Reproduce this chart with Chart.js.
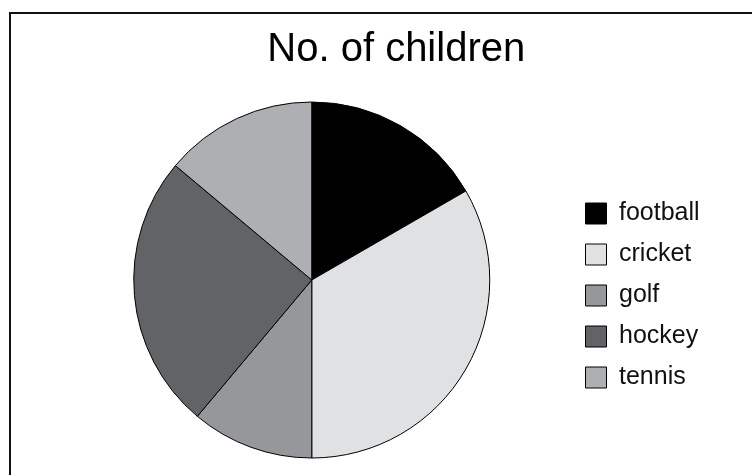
<!DOCTYPE html>
<html>
<head>
<meta charset="utf-8">
<title>No. of children</title>
<script src="https://cdn.jsdelivr.net/npm/chart.js@4.4.1/dist/chart.umd.min.js"></script>
<style>
  html, body { margin: 0; padding: 0; background: #fff; overflow: hidden; }
  .frame {
    position: absolute; left: 9px; top: 12px; width: 800px; height: 500px;
    border-left: 2px solid #111; border-top: 2px solid #111;
  }
  #chart { position: absolute; left: 0; top: 0; }
</style>
</head>
<body>
<div class="frame"></div>
<canvas id="chart" width="752" height="475"></canvas>
<script>
  const sports = ["football", "cricket", "golf", "hockey", "tennis"];
  const children = [6, 12, 4, 9, 5];
  const sliceColors = ["#000000", "#e0e1e3", "#96979a", "#626366", "#aeafb2"];

  const LEGEND_W = 169;

  // legend box is wider than its text in the original, keep the title off-centre like there
  const legendWidth = {
    id: "legendWidth",
    afterInit(chart) {
      const legend = chart.legend;
      if (!legend) return;
      const fit = legend.fit;
      legend.fit = function () {
        fit.call(this);
        this.width = LEGEND_W;
      };
    },
  };

  new Chart(document.getElementById("chart"), {
    type: "pie",
    data: {
      labels: sports,
      datasets: [
        {
          data: children,
          backgroundColor: sliceColors,
          borderColor: "#000",
          borderWidth: 1,
          hoverOffset: 0,
        },
      ],
    },
    options: {
      responsive: false,
      animation: false,
      layout: { padding: { top: 0, left: 54, right: 13.5, bottom: 16.5 } },
      plugins: {
        tooltip: { enabled: false },
        title: {
          display: true,
          text: "No. of children",
          color: "#000",
          font: { family: "'Liberation Sans', Arial, sans-serif", size: 40, weight: "normal" },
          padding: { top: 26.4, bottom: 27.1 },
        },
        legend: {
          position: "right",
          fullSize: false,
          // empty title only pushes the items down a bit
          title: { display: true, text: "", font: { size: 10 }, padding: { top: 19, bottom: 0 } },
          labels: {
            color: "#111",
            boxWidth: 21,
            boxHeight: 21,
            padding: 16,
            font: { family: "'Liberation Sans', Arial, sans-serif", size: 25 },
          },
        },
      },
    },
    plugins: [legendWidth],
  });
</script>
</body>
</html>
